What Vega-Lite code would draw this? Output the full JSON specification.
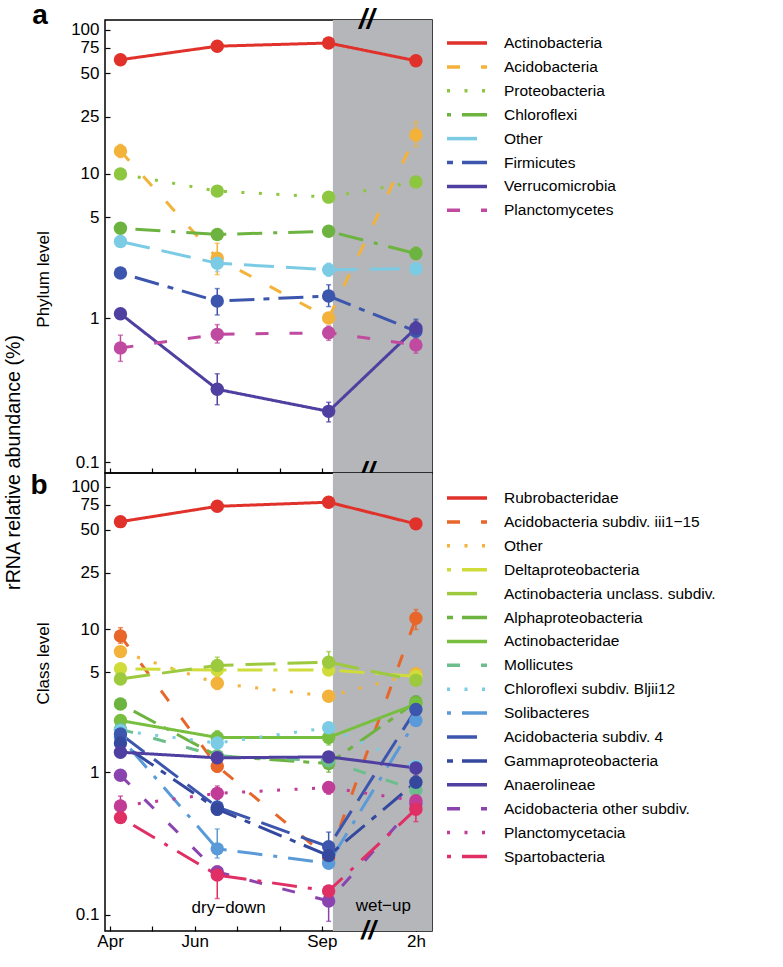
{
  "$schema": "https://vega.github.io/schema/vega-lite/v6.json",
  "background": "white",
  "padding": {"top": 1, "left": 4, "right": 0, "bottom": 0},
  "spacing": 0,
  "bounds": "flush",
  "title": {"text": "rRNA relative abundance (%)", "orient": "left", "anchor": "middle", "font": "Liberation Sans", "fontSize": 19.7, "fontWeight": "normal", "color": "black", "offset": 6, "dx": 13},
  "config": {
    "view": {"stroke": "black", "strokeWidth": 1.5},
    "axis": {"grid": false, "domain": false, "tickColor": "black", "tickSize": -5, "tickWidth": 1.2, "labelFont": "Liberation Sans", "labelFontSize": 17, "labelColor": "black", "labelPadding": 11, "titleFont": "Liberation Sans", "titleFontSize": 17, "titleFontWeight": "normal", "titleColor": "black"},
    "legend": {"symbolType": "M-2,0H2", "symbolSize": 400, "symbolStrokeWidth": 3.5, "symbolOpacity": 1, "labelFont": "Liberation Sans", "labelFontSize": 15.5, "labelColor": "black", "labelOffset": 25, "rowPadding": 2.9, "padding": 0, "labelLimit": 400},
    "text": {"font": "Liberation Sans", "color": "black"}
  },
  "datasets": {
    "phylum": [
      {"t": "Actinobacteria", "m": 0.245, "v": 62, "lo": 62, "hi": 62},
      {"t": "Actinobacteria", "m": 2.53, "v": 77, "lo": 77, "hi": 77},
      {"t": "Actinobacteria", "m": 5.16, "v": 81, "lo": 81, "hi": 81},
      {"t": "Actinobacteria", "m": 7.22, "v": 61, "lo": 61, "hi": 61},
      {"t": "Acidobacteria", "m": 0.245, "v": 14.4, "lo": 13, "hi": 16},
      {"t": "Acidobacteria", "m": 2.53, "v": 2.6, "lo": 2.0, "hi": 3.3},
      {"t": "Acidobacteria", "m": 5.16, "v": 1.0, "lo": 0.95, "hi": 1.05},
      {"t": "Acidobacteria", "m": 7.22, "v": 18.6, "lo": 15.5, "hi": 23},
      {"t": "Proteobacteria", "m": 0.245, "v": 10, "lo": 10, "hi": 10},
      {"t": "Proteobacteria", "m": 2.53, "v": 7.6, "lo": 7.6, "hi": 7.6},
      {"t": "Proteobacteria", "m": 5.16, "v": 6.9, "lo": 6.9, "hi": 6.9},
      {"t": "Proteobacteria", "m": 7.22, "v": 8.8, "lo": 8.8, "hi": 8.8},
      {"t": "Chloroflexi", "m": 0.245, "v": 4.2, "lo": 4.2, "hi": 4.2},
      {"t": "Chloroflexi", "m": 2.53, "v": 3.8, "lo": 3.8, "hi": 3.8},
      {"t": "Chloroflexi", "m": 5.16, "v": 4.0, "lo": 4.0, "hi": 4.0},
      {"t": "Chloroflexi", "m": 7.22, "v": 2.8, "lo": 2.55, "hi": 3.1},
      {"t": "Other", "m": 0.245, "v": 3.4, "lo": 3.4, "hi": 3.4},
      {"t": "Other", "m": 2.53, "v": 2.4, "lo": 2.1, "hi": 2.8},
      {"t": "Other", "m": 5.16, "v": 2.16, "lo": 1.95, "hi": 2.4},
      {"t": "Other", "m": 7.22, "v": 2.2, "lo": 2.0, "hi": 2.4},
      {"t": "Firmicutes", "m": 0.245, "v": 2.05, "lo": 2.05, "hi": 2.05},
      {"t": "Firmicutes", "m": 2.53, "v": 1.31, "lo": 1.05, "hi": 1.6},
      {"t": "Firmicutes", "m": 5.16, "v": 1.42, "lo": 1.2, "hi": 1.7},
      {"t": "Firmicutes", "m": 7.22, "v": 0.81, "lo": 0.72, "hi": 0.98},
      {"t": "Verrucomicrobia", "m": 0.245, "v": 1.07, "lo": 1.0, "hi": 1.15},
      {"t": "Verrucomicrobia", "m": 2.53, "v": 0.32, "lo": 0.25, "hi": 0.41},
      {"t": "Verrucomicrobia", "m": 5.16, "v": 0.225, "lo": 0.19, "hi": 0.26},
      {"t": "Verrucomicrobia", "m": 7.22, "v": 0.85, "lo": 0.78, "hi": 0.95},
      {"t": "Planctomycetes", "m": 0.245, "v": 0.62, "lo": 0.5, "hi": 0.76},
      {"t": "Planctomycetes", "m": 2.53, "v": 0.77, "lo": 0.67, "hi": 0.9},
      {"t": "Planctomycetes", "m": 5.16, "v": 0.79, "lo": 0.7, "hi": 0.88},
      {"t": "Planctomycetes", "m": 7.22, "v": 0.65, "lo": 0.57, "hi": 0.75}
    ],
    "class": [
      {"t": "Rubrobacteridae", "m": 0.245, "v": 57, "lo": 57, "hi": 57},
      {"t": "Rubrobacteridae", "m": 2.53, "v": 73, "lo": 73, "hi": 73},
      {"t": "Rubrobacteridae", "m": 5.16, "v": 78, "lo": 78, "hi": 78},
      {"t": "Rubrobacteridae", "m": 7.22, "v": 55, "lo": 55, "hi": 55},
      {"t": "Acidobacteria subdiv. iii1−15", "m": 0.245, "v": 9.0, "lo": 8.0, "hi": 10.3},
      {"t": "Acidobacteria subdiv. iii1−15", "m": 2.53, "v": 1.1, "lo": 1.0, "hi": 1.2},
      {"t": "Acidobacteria subdiv. iii1−15", "m": 5.16, "v": 0.25, "lo": 0.25, "hi": 0.25},
      {"t": "Acidobacteria subdiv. iii1−15", "m": 7.22, "v": 12, "lo": 10, "hi": 13.8},
      {"t": "Other", "m": 0.245, "v": 7.0, "lo": 7.0, "hi": 7.0},
      {"t": "Other", "m": 2.53, "v": 4.2, "lo": 3.8, "hi": 4.7},
      {"t": "Other", "m": 5.16, "v": 3.4, "lo": 3.4, "hi": 3.4},
      {"t": "Other", "m": 7.22, "v": 4.9, "lo": 4.5, "hi": 5.3},
      {"t": "Deltaproteobacteria", "m": 0.245, "v": 5.3, "lo": 5.3, "hi": 5.3},
      {"t": "Deltaproteobacteria", "m": 2.53, "v": 5.2, "lo": 5.2, "hi": 5.2},
      {"t": "Deltaproteobacteria", "m": 5.16, "v": 5.2, "lo": 5.2, "hi": 5.2},
      {"t": "Deltaproteobacteria", "m": 7.22, "v": 4.7, "lo": 4.7, "hi": 4.7},
      {"t": "Actinobacteria unclass. subdiv.", "m": 0.245, "v": 4.5, "lo": 4.5, "hi": 4.5},
      {"t": "Actinobacteria unclass. subdiv.", "m": 2.53, "v": 5.6, "lo": 5.0, "hi": 6.4},
      {"t": "Actinobacteria unclass. subdiv.", "m": 5.16, "v": 5.9, "lo": 5.2, "hi": 7.0},
      {"t": "Actinobacteria unclass. subdiv.", "m": 7.22, "v": 4.4, "lo": 4.4, "hi": 4.4},
      {"t": "Alphaproteobacteria", "m": 0.245, "v": 3.0, "lo": 3.0, "hi": 3.0},
      {"t": "Alphaproteobacteria", "m": 2.53, "v": 1.3, "lo": 1.3, "hi": 1.3},
      {"t": "Alphaproteobacteria", "m": 5.16, "v": 1.15, "lo": 1.0, "hi": 1.3},
      {"t": "Alphaproteobacteria", "m": 7.22, "v": 3.1, "lo": 3.1, "hi": 3.1},
      {"t": "Actinobacteridae", "m": 0.245, "v": 2.3, "lo": 2.3, "hi": 2.3},
      {"t": "Actinobacteridae", "m": 2.53, "v": 1.75, "lo": 1.55, "hi": 1.95},
      {"t": "Actinobacteridae", "m": 5.16, "v": 1.75, "lo": 1.55, "hi": 1.95},
      {"t": "Actinobacteridae", "m": 7.22, "v": 3.0, "lo": 3.0, "hi": 3.0},
      {"t": "Mollicutes", "m": 0.245, "v": 2.0, "lo": 2.0, "hi": 2.0},
      {"t": "Mollicutes", "m": 2.53, "v": 1.3, "lo": 1.3, "hi": 1.3},
      {"t": "Mollicutes", "m": 5.16, "v": 1.2, "lo": 1.2, "hi": 1.2},
      {"t": "Mollicutes", "m": 7.22, "v": 0.75, "lo": 0.75, "hi": 0.75},
      {"t": "Chloroflexi subdiv. Bljii12", "m": 0.245, "v": 1.95, "lo": 1.95, "hi": 1.95},
      {"t": "Chloroflexi subdiv. Bljii12", "m": 2.53, "v": 1.6, "lo": 1.6, "hi": 1.6},
      {"t": "Chloroflexi subdiv. Bljii12", "m": 5.16, "v": 2.05, "lo": 2.05, "hi": 2.05},
      {"t": "Chloroflexi subdiv. Bljii12", "m": 7.22, "v": 1.1, "lo": 1.1, "hi": 1.1},
      {"t": "Solibacteres", "m": 0.245, "v": 1.75, "lo": 1.75, "hi": 1.75},
      {"t": "Solibacteres", "m": 2.53, "v": 0.29, "lo": 0.25, "hi": 0.4},
      {"t": "Solibacteres", "m": 5.16, "v": 0.23, "lo": 0.23, "hi": 0.23},
      {"t": "Solibacteres", "m": 7.22, "v": 2.3, "lo": 2.3, "hi": 2.3},
      {"t": "Acidobacteria subdiv. 4", "m": 0.245, "v": 1.85, "lo": 1.85, "hi": 1.85},
      {"t": "Acidobacteria subdiv. 4", "m": 2.53, "v": 0.57, "lo": 0.57, "hi": 0.57},
      {"t": "Acidobacteria subdiv. 4", "m": 5.16, "v": 0.3, "lo": 0.27, "hi": 0.38},
      {"t": "Acidobacteria subdiv. 4", "m": 7.22, "v": 2.75, "lo": 2.2, "hi": 3.4},
      {"t": "Gammaproteobacteria", "m": 0.245, "v": 1.6, "lo": 1.6, "hi": 1.6},
      {"t": "Gammaproteobacteria", "m": 2.53, "v": 0.55, "lo": 0.5, "hi": 0.65},
      {"t": "Gammaproteobacteria", "m": 5.16, "v": 0.26, "lo": 0.26, "hi": 0.26},
      {"t": "Gammaproteobacteria", "m": 7.22, "v": 0.85, "lo": 0.85, "hi": 0.85},
      {"t": "Anaerolineae", "m": 0.245, "v": 1.38, "lo": 1.38, "hi": 1.38},
      {"t": "Anaerolineae", "m": 2.53, "v": 1.26, "lo": 1.15, "hi": 1.4},
      {"t": "Anaerolineae", "m": 5.16, "v": 1.28, "lo": 1.28, "hi": 1.28},
      {"t": "Anaerolineae", "m": 7.22, "v": 1.07, "lo": 0.95, "hi": 1.2},
      {"t": "Acidobacteria other subdiv.", "m": 0.245, "v": 0.95, "lo": 0.95, "hi": 0.95},
      {"t": "Acidobacteria other subdiv.", "m": 2.53, "v": 0.2, "lo": 0.2, "hi": 0.2},
      {"t": "Acidobacteria other subdiv.", "m": 5.16, "v": 0.125, "lo": 0.09, "hi": 0.15},
      {"t": "Acidobacteria other subdiv.", "m": 7.22, "v": 0.6, "lo": 0.6, "hi": 0.6},
      {"t": "Planctomycetacia", "m": 0.245, "v": 0.58, "lo": 0.52, "hi": 0.68},
      {"t": "Planctomycetacia", "m": 2.53, "v": 0.71, "lo": 0.65, "hi": 0.8},
      {"t": "Planctomycetacia", "m": 5.16, "v": 0.78, "lo": 0.7, "hi": 0.85},
      {"t": "Planctomycetacia", "m": 7.22, "v": 0.63, "lo": 0.63, "hi": 0.63},
      {"t": "Spartobacteria", "m": 0.245, "v": 0.48, "lo": 0.44, "hi": 0.52},
      {"t": "Spartobacteria", "m": 2.53, "v": 0.19, "lo": 0.13, "hi": 0.22},
      {"t": "Spartobacteria", "m": 5.16, "v": 0.147, "lo": 0.13, "hi": 0.16},
      {"t": "Spartobacteria", "m": 7.22, "v": 0.55, "lo": 0.45, "hi": 0.65}
    ],
    "periods": [{"start": 5.26, "end": 7.6}],
    "marksA": [{"m": 6.06, "v": 117, "s": "//"}, {"m": 6.06, "v": 0.084, "s": "//"}],
    "panelA": [{"m": -1.84, "v": 110, "s": "a"}],
    "marksB": [{"m": 6.1, "v": 0.077, "s": "//"}],
    "panelB": [{"m": -1.88, "v": 89, "s": "b"}],
    "labelsB": [{"m": 2.8, "v": 0.112, "s": "dry−down"}, {"m": 6.45, "v": 0.115, "s": "wet−up"}]
  },
  "vconcat": [
    {
      "width": 327,
      "height": 453,
      "layer": [
        {
          "data": {"name": "periods"},
          "mark": {"type": "rect", "color": "#b5b6ba"},
          "encoding": {
            "x": {"field": "start", "type": "quantitative", "scale": {"domain": [-0.12, 7.6], "nice": false, "zero": false}, "axis": {"title": null, "values": [0, 1, 2, 3, 4, 5, 7.22], "labels": false}},
            "x2": {"field": "end"}
          }
        },
        {
          "data": {"name": "phylum"},
          "mark": {"type": "line", "strokeWidth": 3},
          "encoding": {
            "x": {"field": "m", "type": "quantitative"},
            "y": {"field": "v", "type": "quantitative", "scale": {"type": "log", "domain": [0.084, 117], "nice": false}, "axis": {"title": "Phylum level", "values": [0.1, 1, 5, 10, 25, 50, 75, 100], "format": "~g", "titlePadding": 18, "titleY": 259}},
            "color": {"field": "t", "type": "nominal", "scale": {"domain": ["Actinobacteria", "Acidobacteria", "Proteobacteria", "Chloroflexi", "Other", "Firmicutes", "Verrucomicrobia", "Planctomycetes"], "range": ["#e0312b", "#f3b23a", "#8dc63f", "#6db33f", "#7ccbe5", "#3c56ad", "#4f3fa0", "#bf4aa0"]}, "legend": {"title": null, "orient": "none", "legendX": 350, "legendY": 11}},
            "strokeDash": {"field": "t", "type": "nominal", "scale": {"domain": ["Actinobacteria", "Acidobacteria", "Proteobacteria", "Chloroflexi", "Other", "Firmicutes", "Verrucomicrobia", "Planctomycetes"], "range": [[1, 0], [13, 21], [3, 14.5], [4, 11, 25, 11], [30, 12], [6, 9, 25, 9], [1, 0], [13, 21]]}, "legend": {"title": null, "orient": "none", "legendX": 350, "legendY": 11}}
          }
        },
        {
          "data": {"name": "phylum"},
          "mark": {"type": "errorbar", "ticks": true, "thickness": 1.5},
          "encoding": {
            "x": {"field": "m", "type": "quantitative"},
            "y": {"field": "lo", "type": "quantitative", "title": "Phylum level"},
            "y2": {"field": "hi"},
            "color": {"field": "t", "type": "nominal"}
          }
        },
        {
          "data": {"name": "phylum"},
          "mark": {"type": "circle", "size": 180, "opacity": 1},
          "encoding": {
            "x": {"field": "m", "type": "quantitative"},
            "y": {"field": "v", "type": "quantitative", "title": "Phylum level"},
            "color": {"field": "t", "type": "nominal"}
          }
        },
        {
          "data": {"name": "marksA"},
          "mark": {"type": "text", "fontSize": 28, "fontStyle": "italic", "fontWeight": "bold", "clip": false, "baseline": "middle"},
          "encoding": {
            "x": {"field": "m", "type": "quantitative"},
            "y": {"field": "v", "type": "quantitative", "title": "Phylum level"},
            "text": {"field": "s"}
          }
        },
        {
          "data": {"name": "panelA"},
          "mark": {"type": "text", "fontSize": 28, "fontWeight": "bold", "align": "left", "baseline": "alphabetic", "clip": false},
          "encoding": {
            "x": {"field": "m", "type": "quantitative"},
            "y": {"field": "v", "type": "quantitative", "title": "Phylum level"},
            "text": {"field": "s"}
          }
        }
      ]
    },
    {
      "width": 327,
      "height": 458,
      "layer": [
        {
          "data": {"name": "periods"},
          "mark": {"type": "rect", "color": "#b5b6ba"},
          "encoding": {
            "x": {"field": "start", "type": "quantitative", "scale": {"domain": [-0.12, 7.6], "nice": false, "zero": false}, "axis": {"title": null, "values": [0, 1, 2, 3, 4, 5, 7.22], "labelExpr": "datum.value == 0 ? 'Apr' : datum.value == 2 ? 'Jun' : datum.value == 5 ? 'Sep' : datum.value > 7 ? '2h' : ''", "labelPadding": 7}},
            "x2": {"field": "end"}
          }
        },
        {
          "data": {"name": "class"},
          "mark": {"type": "line", "strokeWidth": 3},
          "encoding": {
            "x": {"field": "m", "type": "quantitative"},
            "y": {"field": "v", "type": "quantitative", "scale": {"type": "log", "domain": [0.077, 125], "nice": false}, "axis": {"title": "Class level", "values": [0.1, 1, 5, 10, 25, 50, 75, 100], "format": "~g", "titlePadding": 18, "titleY": 190}},
            "color": {"field": "t", "type": "nominal", "scale": {"domain": ["Rubrobacteridae", "Acidobacteria subdiv. iii1−15", "Other", "Deltaproteobacteria", "Actinobacteria unclass. subdiv.", "Alphaproteobacteria", "Actinobacteridae", "Mollicutes", "Chloroflexi subdiv. Bljii12", "Solibacteres", "Acidobacteria subdiv. 4", "Gammaproteobacteria", "Anaerolineae", "Acidobacteria other subdiv.", "Planctomycetacia", "Spartobacteria"], "range": ["#e0312b", "#e8662a", "#f3b23a", "#cfdc3a", "#9cc93e", "#6db33f", "#79bf3f", "#6cbf8c", "#7ccbe5", "#5a9ad8", "#3c56ad", "#34489e", "#4f3fa0", "#8a44b0", "#c03c96", "#e02f64"]}, "legend": {"title": null, "orient": "none", "legendX": 350, "legendY": 13}},
            "strokeDash": {"field": "t", "type": "nominal", "scale": {"domain": ["Rubrobacteridae", "Acidobacteria subdiv. iii1−15", "Other", "Deltaproteobacteria", "Actinobacteria unclass. subdiv.", "Alphaproteobacteria", "Actinobacteridae", "Mollicutes", "Chloroflexi subdiv. Bljii12", "Solibacteres", "Acidobacteria subdiv. 4", "Gammaproteobacteria", "Anaerolineae", "Acidobacteria other subdiv.", "Planctomycetacia", "Spartobacteria"], "range": [[1, 0], [13, 21], [3, 14.5], [4, 11, 25, 11], [30, 12], [6, 9, 25, 9], [1, 0], [13, 21], [3, 14.5], [4, 11, 25, 11], [30, 12], [6, 9, 25, 9], [1, 0], [13, 21], [3, 14.5], [4, 11, 25, 11]]}, "legend": {"title": null, "orient": "none", "legendX": 350, "legendY": 13}}
          }
        },
        {
          "data": {"name": "class"},
          "mark": {"type": "errorbar", "ticks": true, "thickness": 1.5},
          "encoding": {
            "x": {"field": "m", "type": "quantitative"},
            "y": {"field": "lo", "type": "quantitative", "title": "Class level"},
            "y2": {"field": "hi"},
            "color": {"field": "t", "type": "nominal"}
          }
        },
        {
          "data": {"name": "class"},
          "mark": {"type": "circle", "size": 180, "opacity": 1},
          "encoding": {
            "x": {"field": "m", "type": "quantitative"},
            "y": {"field": "v", "type": "quantitative", "title": "Class level"},
            "color": {"field": "t", "type": "nominal"}
          }
        },
        {
          "data": {"name": "labelsB"},
          "mark": {"type": "text", "fontSize": 17},
          "encoding": {
            "x": {"field": "m", "type": "quantitative"},
            "y": {"field": "v", "type": "quantitative", "title": "Class level"},
            "text": {"field": "s"}
          }
        },
        {
          "data": {"name": "marksB"},
          "mark": {"type": "text", "fontSize": 26, "fontStyle": "italic", "fontWeight": "bold", "clip": false, "baseline": "middle"},
          "encoding": {
            "x": {"field": "m", "type": "quantitative"},
            "y": {"field": "v", "type": "quantitative", "title": "Class level"},
            "text": {"field": "s"}
          }
        },
        {
          "data": {"name": "panelB"},
          "mark": {"type": "text", "fontSize": 28, "fontWeight": "bold", "align": "left", "baseline": "alphabetic", "clip": false},
          "encoding": {
            "x": {"field": "m", "type": "quantitative"},
            "y": {"field": "v", "type": "quantitative", "title": "Class level"},
            "text": {"field": "s"}
          }
        }
      ]
    }
  ],
  "resolve": {"scale": {"color": "independent", "strokeDash": "independent", "y": "independent"}}
}
